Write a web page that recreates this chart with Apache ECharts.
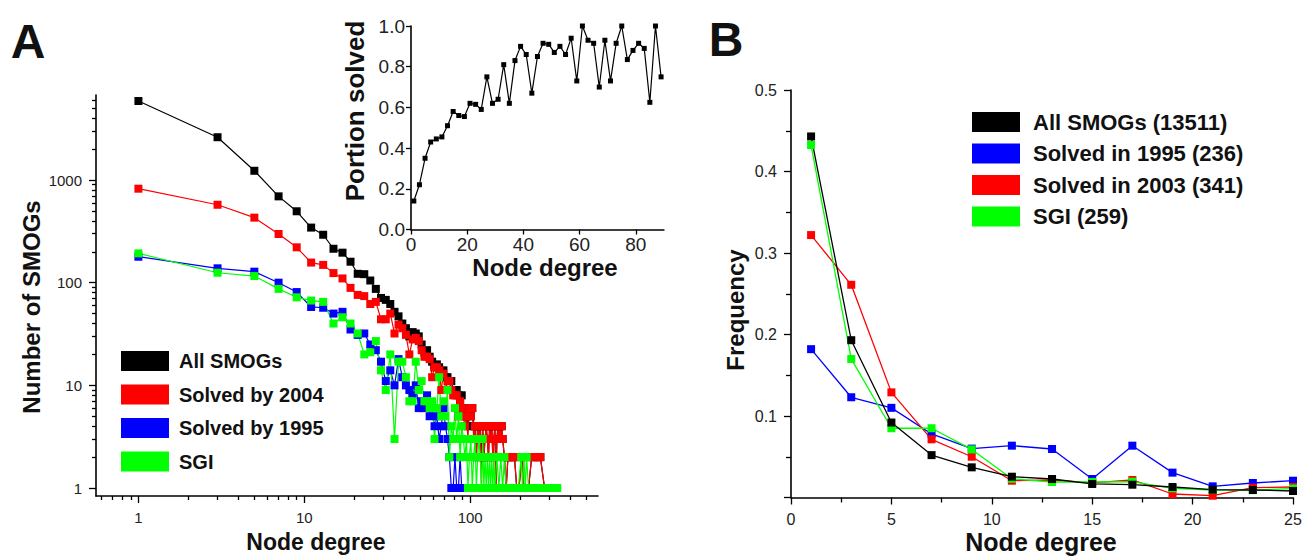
<!DOCTYPE html>
<html><head><meta charset="utf-8">
<script src="https://cdn.jsdelivr.net/npm/echarts@6.0.0/dist/echarts.min.js"></script>
<style>html,body{margin:0;padding:0;background:#fff}#c{width:1304px;height:556px}</style>
</head><body><div id="c"></div>
<script>
// ---------- Panel A main (log-log) : [node degree, number of SMOGs] ----------
const allSMOGs = [[1,5880],[3,2610],[5,1230],[7,693],[9,496],[11,344],[13,293],[15,214],[17,196],[19,160],[21,122],[23,121],[25,105],[27,87],[29,71],[31,68],[33,62],[35,52],[37,47],[39,40],[41,36],[43,30],[45,33],[47,32],[49,30],[51,25],[53,21],[55,22],[57,19],[59,17],[61,15],[63,16],[65,15],[67,13],[69,14],[71,12],[73,12],[75,11],[77,11],[79,9],[81,9],[83,9],[85,8],[87,7],[89,8],
 [91,6],[93,5],[95,5],[97,4],[99,6],[101,5],[103,6],[105,4],[107,4],[109,2],[111,4],[113,3],[115,4],[117,2],[119,4],[121,2],[123,3],[125,4],[127,3],[129,2],[131,4],[133,3],[135,4],[137,2],[139,3],[141,4],[143,1],[145,3],[147,4],[149,3],[151,4],[153,3],[155,4],[157,3],[161,2],[165,1],[169,2],[173,2],[177,2],[181,2],[185,2],[191,1],[197,1],[205,2],[211,1],[225,1],[235,2],[241,2],[251,2],[259,2],[265,2],[281,1],[301,1]];
const solvedBy2004 = [[1,823],[3,574],[5,430],[7,298],[9,221],[11,157],[13,149],[15,124],[17,110],[19,89],[21,76],[23,74],[25,62],[27,65],[29,44],[31,44],[33,50],[35,32],[37,39],[39,36],[41,31],[43,20],[45,28],[47,29],[49,27],[51,22],[53,19],[55,19],[57,18],[59,12],[61,15],[63,15],[65,14],[67,9],[69,13],[71,9],[73,11],[75,11],[77,9],[79,8],[81,8],[83,8],[85,5],[87,7],[89,6],
 [91,5],[93,4],[95,5],[97,3],[99,6],[101,5],[103,6],[105,3],[107,4],[109,2],[111,4],[113,3],[115,4],[117,1],[119,4],[121,2],[123,3],[125,4],[127,3],[129,2],[131,4],[133,3],[135,4],[137,2],[139,3],[141,4],[143,1],[145,3],[147,4],[149,3],[151,4],[153,3],[155,4],[157,3],[161,2],[165,1],[169,2],[173,2],[177,2],[181,2],[185,2],[191,1],[197,1],[205,2],[211,1],[225,1],[235,2],[241,2],[251,2],[259,2],[265,2],[281,1],[301,1]];
const solvedBy1995 = [[1,179],[3,138],[5,128],[7,100],[9,81],[11,58],[13,57],[15,50],[17,52],[19,35],[21,31],[23,32],[25,25],[27,22],[29,17],[31,11],[33,14],[35,10],[37,18],[39,12],[41,10],[43,9],[45,8],[47,10],[49,6],[51,7],[53,6],[55,8],[57,5],[59,6],[61,4],[63,5],[65,3],[67,4],[69,6],[71,4],[73,3],[75,2],[77,1],[79,1],[81,2],[83,1],[85,1],[87,2],[89,1],[93,1],[97,1]];
const sgi = [[1,193],[3,125],[5,116],[7,87],[9,72],[11,67],[13,65],[15,40],[17,46],[19,40],[21,32],[23,20],[25,21],[27,27],[29,14],[31,9],[33,20],[35,3],[37,17],[39,17],[41,12],[43,7],[45,7],[47,17],[49,9],[51,11],[53,7],[55,7],[57,6],[59,7],[61,3],[63,6],[65,12],[67,5],[69,7],[71,5],[73,9],[75,2],[77,4],[79,3],[81,6],[83,3],[85,5],[87,2],[89,4],
 [91,3],[93,2],[95,3],[97,1],[99,2],[101,3],[103,1],[105,2],[107,3],[109,1],[111,2],[113,3],[115,2],[117,1],[119,3],[121,1],[123,2],[125,1],[127,2],[129,1],[131,2],[133,1],[135,2],[137,1],[139,2],[141,1],[145,2],[149,1],[153,2],[157,1],[161,2],[165,1],[171,1],[177,1],[183,1],[189,1],[195,1],[203,2],[207,1],[211,2],[215,1],[219,2],[225,1],[233,1],[241,1],[249,1],[257,1],[265,1],[275,1],[285,1],[295,1],[305,1],[315,1],[325,1],[335,1]];
const legendA = ['All SMOGs','Solved by 2004','Solved by 1995','SGI'];
const xMajorA = [1,10,100];
const xMinorA = [0.6,0.7,0.8,0.9,2,3,4,5,6,7,8,9,20,30,40,50,60,70,80,90,200,300,400,500];
const yMajorA = [1,10,100,1000];
const yMinorA = [2,3,4,5,6,7,8,9,20,30,40,50,60,70,80,90,200,300,400,500,600,700,800,900,2000,3000,4000,5000,6000];

// ---------- Panel A inset : portion solved vs node degree ----------
const insetDegree = [1,3,5,7,9,11,13,15,17,19,21,23,25,27,29,31,33,35,37,39,41,43,45,47,49,51,53,55,57,59,61,63,65,67,69,71,73,75,77,79,81,83,85,87,89];
const portionSolved = [0.14,0.22,0.35,0.43,0.445,0.455,0.51,0.58,0.56,0.555,0.62,0.615,0.59,0.75,0.62,0.64,0.81,0.62,0.83,0.90,0.86,0.67,0.85,0.915,0.91,0.87,0.90,0.86,0.94,0.73,1.0,0.93,0.915,0.70,0.93,0.73,0.915,1.0,0.835,0.88,0.915,0.89,0.625,1.0,0.75];
const insetXTicks = [0,20,40,60,80];

// ---------- Panel B : frequency vs node degree ----------
const degreeB = [1,3,5,7,9,11,13,15,17,19,21,23,25];
const freqAll = [0.443,0.193,0.092,0.052,0.037,0.0255,0.0227,0.0166,0.0157,0.0129,0.0096,0.0092,0.008];
const freq1995 = [0.182,0.123,0.110,0.078,0.060,0.0636,0.0595,0.0227,0.0636,0.0305,0.0137,0.0178,0.0206];
const freq2003 = [0.322,0.261,0.129,0.0714,0.050,0.0206,0.0215,0.018,0.0215,0.0043,0.0022,0.012,0.0129];
const freqSGI = [0.4325,0.170,0.085,0.085,0.059,0.023,0.019,0.019,0.0194,0.0113,0.0092,0.009,0.011];
const legendB = ['All SMOGs (13511)','Solved in 1995 (236)','Solved in 2003 (341)','SGI (259)'];

const FONT = '"Liberation Sans", Arial, Helvetica, sans-serif';
const BLACK = '#000000', RED = '#ff0000', BLUE = '#0000ff', GREEN = '#00ff00';
const axLine = {show:true, onZero:false, lineStyle:{color:'#000', width:1.6}};
const tickStyle = {color:'#000', width:1.3};
const lbl = (s) => ({fontFamily:FONT, fontSize:s, color:'#222'});
const zip = (xs, ys) => xs.map((x, i) => [x, ys[i]]);

const A_X = {min:0.555, max:590};
const A_Y = {min:0.836, max:6730};

function lineA(name, data, color) {
  return {name, type:'line', xAxisIndex:0, yAxisIndex:0, data, symbol:'rect', symbolSize:8,
    itemStyle:{color, borderWidth:0}, lineStyle:{color, width:1.2}, silent:true, clip:true};
}
function lineB(name, ys, color) {
  return {name, type:'line', xAxisIndex:3, yAxisIndex:3, data:zip(degreeB, ys), symbol:'rect', symbolSize:8,
    itemStyle:{color, borderWidth:0}, lineStyle:{color, width:1.3}, silent:true, clip:false};
}
function txt(text, x, y, size, rot) {
  return {type:'text', x, y, rotation: rot ? Math.PI/2 : 0, silent:true,
    style:{text, fontFamily:FONT, fontSize:size, fontWeight:'bold', fill:'#111', align:'center', verticalAlign:'middle'}};
}

const chart = echarts.init(document.getElementById('c'), null, {renderer:'svg'});
chart.setOption({
  animation:false,
  backgroundColor:'#ffffff',
  grid:[
    {left:96, top:95, width:502, height:401, outerBoundsMode:'none', containLabel:false},
    {left:411, top:26, width:252.9, height:203.5, outerBoundsMode:'none', containLabel:false},
    {left:791, top:90, width:502, height:407.5, outerBoundsMode:'none', containLabel:false}
  ],
  xAxis:[
    {gridIndex:0, type:'log', logBase:10, position:'bottom', min:A_X.min, max:A_X.max, axisLine:axLine,
     axisTick:{show:true, length:7, lineStyle:tickStyle, customValues:xMajorA},
     axisLabel:{show:true, margin:14, customValues:xMajorA, formatter:(v)=>String(Math.round(v)), ...lbl(15)},
     splitLine:{show:false}},
    {gridIndex:0, type:'log', logBase:10, position:'bottom', min:A_X.min, max:A_X.max, axisLine:{show:false},
     axisTick:{show:true, length:4, lineStyle:tickStyle, customValues:xMinorA},
     axisLabel:{show:false}, splitLine:{show:false}},
    {gridIndex:1, type:'value', position:'bottom', min:0, max:90, axisLine:axLine,
     axisTick:{show:true, length:5, lineStyle:tickStyle, customValues:insetXTicks},
     axisLabel:{show:true, margin:5, customValues:insetXTicks, ...lbl(19)}, splitLine:{show:false}},
    {gridIndex:2, type:'value', position:'bottom', min:0, max:25, interval:5, axisLine:axLine,
     axisTick:{show:true, length:7, lineStyle:tickStyle},
     minorTick:{show:true, splitNumber:2, length:5, lineStyle:tickStyle},
     axisLabel:{show:true, margin:14, ...lbl(16)}, splitLine:{show:false}, minorSplitLine:{show:false}}
  ],
  yAxis:[
    {gridIndex:0, type:'log', logBase:10, position:'left', min:A_Y.min, max:A_Y.max, axisLine:axLine,
     axisTick:{show:true, length:7, lineStyle:tickStyle, customValues:yMajorA},
     axisLabel:{show:true, margin:14, customValues:yMajorA, formatter:(v)=>String(Math.round(v)), ...lbl(15)},
     splitLine:{show:false}},
    {gridIndex:0, type:'log', logBase:10, position:'left', min:A_Y.min, max:A_Y.max, axisLine:{show:false},
     axisTick:{show:true, length:4, lineStyle:tickStyle, customValues:yMinorA},
     axisLabel:{show:false}, splitLine:{show:false}},
    {gridIndex:1, type:'value', position:'left', min:0, max:1, interval:0.2, axisLine:axLine,
     axisTick:{show:true, length:5, lineStyle:tickStyle},
     axisLabel:{show:true, margin:6, formatter:(v)=>v.toFixed(1), ...lbl(19)}, splitLine:{show:false}},
    {gridIndex:2, type:'value', position:'left', min:0, max:0.5, interval:0.1, axisLine:axLine,
     axisTick:{show:true, length:7, lineStyle:tickStyle},
     minorTick:{show:true, splitNumber:2, length:5, lineStyle:tickStyle},
     axisLabel:{show:true, margin:14, showMinLabel:false, formatter:(v)=>String(+v.toFixed(2)), ...lbl(16)},
     splitLine:{show:false}, minorSplitLine:{show:false}}
  ],
  legend:[
    {data:legendA, left:121, top:351, orient:'vertical', icon:'rect', itemWidth:48, itemHeight:20, itemGap:13.5,
     padding:0, selectedMode:false, textStyle:{fontFamily:FONT, fontSize:20, fontWeight:'bold', color:'#111', padding:[0,0,0,5]}},
    {data:legendB, left:972, top:111, orient:'vertical', icon:'rect', itemWidth:48, itemHeight:20, itemGap:9.5,
     padding:0, selectedMode:false, textStyle:{fontFamily:FONT, fontSize:22, fontWeight:'bold', color:'#111', padding:[0,0,0,8]}}
  ],
  series:[
    lineA(legendA[0], allSMOGs, BLACK),
    lineA(legendA[1], solvedBy2004, RED),
    lineA(legendA[2], solvedBy1995, BLUE),
    lineA(legendA[3], sgi, GREEN),
    {name:'Portion solved', type:'line', xAxisIndex:2, yAxisIndex:2, data:zip(insetDegree, portionSolved),
     symbol:'rect', symbolSize:5, itemStyle:{color:BLACK, borderWidth:0}, lineStyle:{color:BLACK, width:1.2}, silent:true, clip:false},
    lineB(legendB[1], freq1995, BLUE),
    lineB(legendB[2], freq2003, RED),
    lineB(legendB[3], freqSGI, GREEN),
    lineB(legendB[0], freqAll, BLACK)
  ],
  graphic:[
    txt('A', 28, 41, 48, false),
    txt('B', 726, 39, 48, false),
    txt('Number of SMOGs', 31, 307, 24, true),
    txt('Node degree', 316, 542, 23, false),
    txt('Portion solved', 355, 111, 26, true),
    txt('Node degree', 545, 267, 24, false),
    txt('Frequency', 735, 310, 24, true),
    txt('Node degree', 1041, 542, 25, false)
  ]
});
</script></body></html>
